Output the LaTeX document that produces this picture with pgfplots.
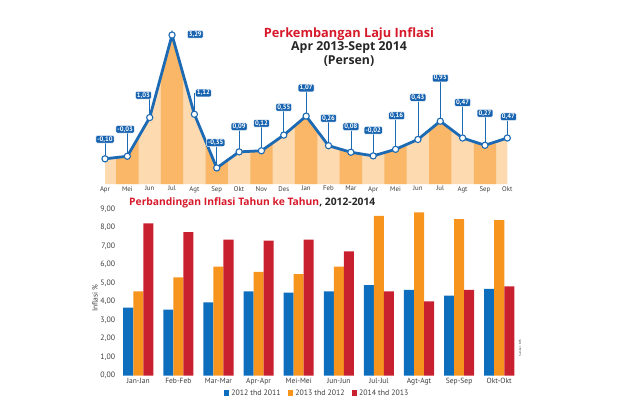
\documentclass[border=0pt]{standalone}
\usepackage{pgfplots}
\pgfplotsset{compat=1.18}
\usepackage{pgfplotstable}
\usepackage{fontspec}
\setmainfont{PT Sans}
\newfontfamily\titlefont{Open Sans}
\definecolor{linecol}{RGB}{28,106,180}
\definecolor{labcol}{RGB}{24,100,176}
\definecolor{peachL}{RGB}{253,218,176}
\definecolor{peachD}{RGB}{250,183,104}
\definecolor{barB}{RGB}{14,110,190}
\definecolor{barO}{RGB}{247,148,30}
\definecolor{barR}{RGB}{200,32,46}
\definecolor{titred}{RGB}{215,25,42}
\definecolor{txtgray}{RGB}{60,60,60}

\pgfplotstableread{
x y lab lx txt
0 -0.10 0.436 0 -0,10
1 -0.03 0.71 0.9 -0,03
2 1.03 1.64 1.72 1,03
3 3.29 3.31 4.04 3,29
4 1.12 1.70 4.4 1,12
5 -0.35 0.34 4.95 -0,35
6 0.09 0.78 6 0,09
7 0.12 0.87 7 0,12
8 0.55 1.31 8 0,55
9 1.07 1.84 9 1,07
10 0.26 1.01 10 0,26
11 0.08 0.78 11 0,08
12 -0.02 0.68 12 -0,02
13 0.16 1.08 13.05 0,16
14 0.43 1.58 14 0,43
15 0.93 2.11 15 0,93
16 0.47 1.44 16 0,47
17 0.27 1.15 17 0,27
18 0.47 1.05 18.05 0,47
}\topdata

\pgfplotstableread{
x a b c
0 3.68 4.56 8.24
1 3.57 5.32 7.77
2 3.97 5.90 7.36
3 4.56 5.61 7.30
4 4.49 5.50 7.36
5 4.56 5.90 6.73
6 4.90 8.65 4.56
7 4.64 8.83 4.02
8 4.33 8.47 4.64
9 4.69 8.42 4.83
}\bardata

\pgfplotsset{/pgf/number format/assume math mode=true,
  topaxis/.style={at={(105pt,229pt)}, anchor=south west,
    scale only axis, width=402.3pt, height=184pt,
    xmin=0, xmax=18, ymin=-0.79, ymax=4.25}}

\begin{document}
\begin{tikzpicture}
\useasboundingbox (0,0) rectangle (620pt,413pt);
% ---------------- top chart: light area ----------------
\begin{axis}[topaxis, hide axis]
\addplot[fill=peachL, draw=none] table[x=x,y=y]{\topdata}
  -- (axis cs:18,-0.79) -- (axis cs:0,-0.79) -- cycle;
\end{axis}
% dark strips
\begin{scope}
\clip
  (116.175pt,229pt) rectangle (138.525pt,413pt)
  (160.875pt,229pt) rectangle (183.225pt,413pt)
  (205.575pt,229pt) rectangle (227.925pt,413pt)
  (250.275pt,229pt) rectangle (272.625pt,413pt)
  (294.975pt,229pt) rectangle (317.325pt,413pt)
  (339.675pt,229pt) rectangle (362.025pt,413pt)
  (384.375pt,229pt) rectangle (406.725pt,413pt)
  (429.075pt,229pt) rectangle (451.425pt,413pt)
  (473.775pt,229pt) rectangle (496.125pt,413pt);
\begin{axis}[topaxis, hide axis]
\addplot[fill=peachD, draw=none] table[x=x,y=y]{\topdata}
  -- (axis cs:18,-0.79) -- (axis cs:0,-0.79) -- cycle;
\end{axis}
\end{scope}
% main top axis
\begin{axis}[topaxis,
  clip=false,
  axis line style={draw=none},
  major tick length=0pt,
  ytick=\empty,
  xtick={0,...,18},
  xticklabels={Apr,Mei,Jun,Jul,Agt,Sep,Okt,Nov,Des,Jan,Feb,Mar,Apr,Mei,Jun,Jul,Agt,Sep,Okt},
  xticklabel style={font=\fontsize{6.8}{7}\selectfont, text=txtgray, inner sep=0pt, yshift=-2pt},
]
% connectors
\addplot[draw=none, mark=none,
  error bars/.cd, y dir=plus, y explicit, error mark=none,
  error bar style={draw=linecol, line width=0.7pt}]
  table[x=x, y=y, y error expr=\thisrow{lab}-\thisrow{y}]{\topdata};
% line
\addplot[draw=linecol, line width=2.8pt, mark=*, mark size=3.1pt,
  mark options={fill=white, draw=linecol, line width=1.1pt}]
  table[x=x,y=y]{\topdata};
% labels
\addplot[draw=none, mark=none, nodes near coords, point meta=explicit symbolic,
  every node near coord/.append style={anchor=center, fill=labcol, text=white,
    font=\fontsize{6.6}{7}\selectfont\bfseries, rounded corners=1.2pt,
    inner xsep=1.5pt, inner ysep=1pt, draw=white, line width=0.5pt}]
  table[x=lx, y=lab, meta=txt]{\topdata};
\end{axis}
\node[font=\titlefont\bfseries\fontsize{12.8}{13}\selectfont, text=titred] at (349pt,379pt) {Perkembangan Laju Inflasi};
\node[font=\titlefont\bfseries\fontsize{12.3}{13}\selectfont, text=black!85] at (349pt,365pt) {Apr 2013-Sept 2014};
\node[font=\titlefont\bfseries\fontsize{12.3}{13}\selectfont, text=black!85] at (349pt,352pt) {(Persen)};
% ---------------- bottom chart ----------------
\begin{axis}[
  at={(114.2pt,37.3pt)}, anchor=south west,
  scale only axis, width=409.1pt, height=166.4pt,
  xmin=-0.6, xmax=9.6, ymin=0, ymax=9,
  clip=false,
  axis line style={draw=none},
  major tick length=0pt,
  ybar=0pt, bar width=0.25,
  ytick={0,1,...,9},
  yticklabel style={font=\fontsize{7.8}{8}\selectfont, text=txtgray, inner sep=1pt, xshift=2pt,
    /pgf/number format/fixed, /pgf/number format/fixed zerofill,
    /pgf/number format/precision=2, /pgf/number format/use comma},
  xtick={0,...,9},
  xticklabels={Jan-Jan,Feb-Feb,Mar-Mar,Apr-Apr,Mei-Mei,Jun-Jun,Jul-Jul,Agt-Agt,Sep-Sep,Okt-Okt},
  xticklabel style={font=\fontsize{7.5}{8}\selectfont, text=txtgray, inner sep=0pt, yshift=-2.5pt},
  legend style={at={(0.496,-0.104)}, anchor=center, draw=none, fill=none,
    legend columns=3, font=\fontsize{7.8}{8}\selectfont, text=txtgray,
    /tikz/every even column/.append style={column sep=5pt},
    inner sep=0pt},
  legend image code/.code={\fill[#1] (0pt,-2.8pt) rectangle (5.6pt,2.8pt);},
]
\addplot[fill=barB, draw=none] table[x=x,y=a]{\bardata};
\addlegendentry{2012 thd 2011}
\addplot[fill=barO, draw=none] table[x=x,y=b]{\bardata};
\addlegendentry{2013 thd 2012}
\addplot[fill=barR, draw=none] table[x=x,y=c]{\bardata};
\addlegendentry{2014 thd 2013}
\end{axis}
\node[anchor=west, font=\titlefont\bfseries\fontsize{10.3}{11}\selectfont, inner sep=0pt] at (129pt,210pt)
  {\textcolor{titred}{Perbandingan Inflasi Tahun ke Tahun}\textcolor{black!85}{, 2012-2014}};
\node[rotate=90, font=\fontsize{7.5}{8}\selectfont, text=txtgray] at (95pt,115pt) {Inflasi \%};
\node[rotate=90, font=\fontsize{3}{3}\selectfont, text=txtgray] at (520pt,65pt) {Sumber: BPS};
\end{tikzpicture}
\end{document}
